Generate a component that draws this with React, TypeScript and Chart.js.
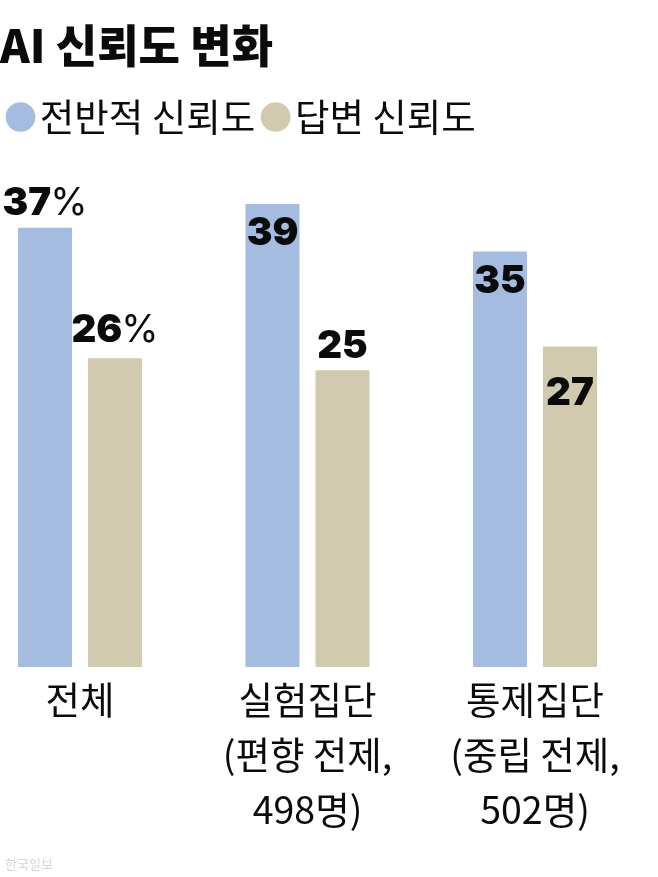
import React, { useEffect, useRef } from 'react';
import { Chart, registerables } from 'chart.js';

Chart.register(...registerables);

// ---- data ----
const titleText = 'AI 신뢰도 변화';
const categories: string[][] = [
  ['전체'],
  ['실험집단', '(편향 전제,', '498명)'],
  ['통제집단', '(중립 전제,', '502명)'],
];
const seriesNames = ['전반적 신뢰도', '답변 신뢰도'];
const overallTrust = [37, 39, 35];
const answerTrust = [26, 25, 27];
const valueSuffixes = [
  ['%', '', ''],
  ['%', '', ''],
];
const sourceText = '한국일보';

// ---- styles ----
const KR = "'Noto Sans CJK KR', 'Noto Sans', sans-serif";
const NUM_FONT = "900 38.5px Inter, 'Liberation Sans', sans-serif";
const PCT_FONT = "400 38px Inter, 'Liberation Sans', sans-serif";
const BLUE = '#a3bce0';
const TAN = '#d2caae';
const INK = '#0b0b0b';
// baseline offset of each value label relative to its bar top (negative = above)
const labelOffsets = [
  [-13, 41, 41.5],
  [-16, -12, 58.5],
];

const valueLabelPlugin = {
  id: 'valueLabels',
  afterDatasetsDraw(chart: any) {
    const ctx: CanvasRenderingContext2D = chart.ctx;
    chart.data.datasets.forEach((ds: any, di: number) => {
      const meta = chart.getDatasetMeta(di);
      meta.data.forEach((bar: any, i: number) => {
        const num = String(ds.data[i]);
        const suffix = valueSuffixes[di][i];
        ctx.save();
        ctx.textAlign = 'left';
        ctx.textBaseline = 'alphabetic';
        ctx.fillStyle = INK;
        ctx.font = NUM_FONT;
        const wn = ctx.measureText(num).width;
        ctx.font = PCT_FONT;
        const wp = suffix ? ctx.measureText(suffix).width - 1 : 0;
        const x0 = bar.x - (wn + wp) / 2;
        const y = bar.y + labelOffsets[di][i];
        ctx.font = NUM_FONT;
        ctx.fillText(num, x0, y);
        if (suffix) {
          ctx.font = PCT_FONT;
          ctx.fillText(suffix, x0 + wn - 1, y);
        }
        ctx.restore();
      });
    });
  },
  afterDraw(chart: any) {
    const ctx: CanvasRenderingContext2D = chart.ctx;
    ctx.save();
    ctx.font = `400 13px ${KR}`;
    ctx.fillStyle = '#d6d6d6';
    ctx.textAlign = 'left';
    ctx.textBaseline = 'alphabetic';
    ctx.fillText(sourceText, 5, 869);
    ctx.restore();
  },
};

export default function App() {
  const canvasRef = useRef<HTMLCanvasElement | null>(null);

  useEffect(() => {
    if (!canvasRef.current) return;
    const chart = new Chart(canvasRef.current, {
      type: 'bar',
      data: {
        labels: categories,
        datasets: [
          {
            label: seriesNames[0],
            data: overallTrust,
            backgroundColor: BLUE,
            borderWidth: 0,
            barPercentage: 0.771,
            categoryPercentage: 0.6154,
            clip: false,
          } as any,
          {
            label: seriesNames[1],
            data: answerTrust,
            backgroundColor: TAN,
            borderWidth: 0,
            barPercentage: 0.771,
            categoryPercentage: 0.6154,
            clip: false,
          } as any,
        ],
      },
      options: {
        animation: false,
        responsive: false,
        devicePixelRatio: 1,
        layout: { padding: { left: 0, right: 123, top: 0, bottom: 0 } },
        plugins: {
          title: {
            display: true,
            text: titleText,
            align: 'start',
            color: INK,
            font: { family: KR, size: 45, weight: 900 as any, lineHeight: 1 },
            padding: { top: 23.5, bottom: 9.75 },
          },
          legend: {
            display: true,
            position: 'top',
            align: 'start',
            labels: {
              usePointStyle: true,
              pointStyle: 'circle',
              boxWidth: 1,
              boxHeight: 21,
              padding: 20,
              color: INK,
              font: { family: KR, size: 37.5, weight: 400 as any },
            },
          },
          tooltip: { enabled: false },
        },
        scales: {
          x: {
            type: 'category',
            offset: false,
            grid: { display: false, drawTicks: false, tickLength: 0 },
            border: { display: false },
            ticks: {
              color: INK,
              font: { family: KR, size: 37.5, lineHeight: 55 / 37.5 },
              padding: 5,
              maxRotation: 0,
              minRotation: 0,
              autoSkip: false,
            },
            afterFit: (s: any) => {
              s.height = 210;
            },
          },
          y: {
            min: 0,
            max: 43.9,
            display: true,
            grid: { display: false, drawTicks: false },
            border: { display: false },
            ticks: { display: false },
            afterFit: (s: any) => {
              s.width = 80;
            },
          },
        },
      } as any,
      plugins: [valueLabelPlugin],
    });
    return () => chart.destroy();
  }, []);

  return (
    <div style={{ position: 'absolute', left: 0, top: 0, width: 658, height: 877, background: '#fff', overflow: 'hidden' }}>
      <canvas ref={canvasRef} width={658} height={877} style={{ display: 'block' }} />
    </div>
  );
}
